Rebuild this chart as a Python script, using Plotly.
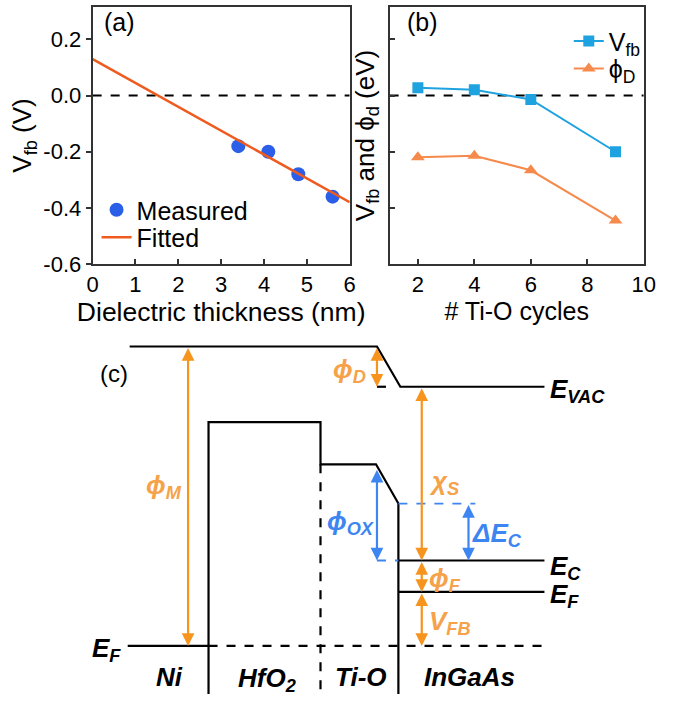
import plotly.graph_objects as go

# ---------------- data: panel (a) ----------------
thickness_nm = [3.4, 4.1, 4.8, 5.6]
vfb_measured = [-0.18, -0.20, -0.28, -0.36]
fit_thickness = [0.0, 6.0]
fit_vfb = [0.13, -0.38]
x_ticks_a = [0, 1, 2, 3, 4, 5, 6]
y_ticks = [-0.6, -0.4, -0.2, 0.0, 0.2]
y_tick_text = ['-0.6', '-0.4', '-0.2', '0.0', '0.2']

# ---------------- data: panel (b) ----------------
ti_o_cycles = [2, 4, 6, 9]
vfb_b = [0.028, 0.021, -0.014, -0.200]
phi_d = [-0.220, -0.214, -0.266, -0.445]
x_ticks_b = [2, 4, 6, 8, 10]

# ---------------- data: panel (c) band diagram (schematic units) ----------------
vac_x = [127, 381, 405, 553]
vac_y = [353, 353, 394, 394]
barrier_x = [208, 208, 323, 323, 380, 403, 403]
barrier_y = [707, 430, 430, 473, 473, 513, 707]
tio_boundary_x = [323, 323]
tio_boundary_y = [473, 707]
metal_ef_x = [125, 208]
metal_ef_y = [658, 658]
ef_dash_x = [208, 553]
ef_dash_y = [658, 658]
vac_dash_x = [381, 395]
vac_dash_y = [394, 394]
ec_x = [403, 553]
ec_y = [571, 571]
ef_semi_x = [403, 553]
ef_semi_y = [603, 603]
blue_dash1_x = [403, 482]
blue_dash1_y = [513, 513]
blue_dash2_x = [381, 403]
blue_dash2_y = [571, 571]

ORANGE = '#f7941d'
ORANGE_T = '#f5a24a'
BLUE = '#3d85f0'
FONT = 'Arial, Liberation Sans, sans-serif'

# arrows: (x, y_top, y_bottom, color)
arrows = [
    (187, 353, 658, ORANGE),   # phi_M
    (381, 353, 394, ORANGE),   # phi_D
    (427, 394, 571, ORANGE),   # chi_S
    (427, 571, 603, ORANGE),   # phi_F
    (427, 603, 658, ORANGE),   # V_FB
    (381, 477, 571, BLUE),     # phi_OX
    (475, 513, 571, BLUE),     # dE_C
]

fig = go.Figure()

# ---- panel (a)
fig.add_trace(go.Scatter(x=[0, 6], y=[0, 0], mode='lines', line=dict(color='black', width=2, dash='dash'),
                         showlegend=False, hoverinfo='skip', xaxis='x', yaxis='y'))
fig.add_trace(go.Scatter(x=thickness_nm, y=vfb_measured, mode='markers', name='Measured',
                         marker=dict(color='#2b5fe8', size=14), legend='legend', xaxis='x', yaxis='y'))
fig.add_trace(go.Scatter(x=fit_thickness, y=fit_vfb, mode='lines', name='Fitted',
                         line=dict(color='#ef5b1f', width=2.5), legend='legend3', xaxis='x', yaxis='y'))

# ---- panel (b)
fig.add_trace(go.Scatter(x=[1, 10], y=[0, 0], mode='lines', line=dict(color='black', width=2, dash='dash'),
                         showlegend=False, hoverinfo='skip', xaxis='x2', yaxis='y2'))
fig.add_trace(go.Scatter(x=ti_o_cycles, y=vfb_b, mode='lines+markers', name='V<sub>fb</sub>',
                         line=dict(color='#1fa3e0', width=2), marker=dict(symbol='square', size=11),
                         legend='legend2', xaxis='x2', yaxis='y2'))
fig.add_trace(go.Scatter(x=ti_o_cycles, y=phi_d, mode='lines+markers', name='ϕ<sub>D</sub>',
                         line=dict(color='#f58a4c', width=2), marker=dict(symbol='triangle-up', size=12),
                         legend='legend4', xaxis='x2', yaxis='y2'))

# ---- panel (c)
def band(x, y, color='black', dash='solid', width=2.2):
    fig.add_trace(go.Scatter(x=x, y=y, mode='lines', line=dict(color=color, width=width, dash=dash),
                             showlegend=False, hoverinfo='skip', xaxis='x3', yaxis='y3'))

band(vac_x, vac_y)
band(barrier_x, barrier_y)
band(tio_boundary_x, tio_boundary_y, dash='dash')
band(metal_ef_x, metal_ef_y)
band(ef_dash_x, ef_dash_y, dash='dash')
band(vac_dash_x, vac_dash_y, dash='dash')
band(ec_x, ec_y)
band(ef_semi_x, ef_semi_y)
band(blue_dash1_x, blue_dash1_y, color=BLUE, dash='dash', width=1.8)
band(blue_dash2_x, blue_dash2_y, color=BLUE, dash='dash', width=1.8)

annotations = []
for (ax_, y0, y1, col) in arrows:
    annotations.append(dict(x=ax_, y=y1, ax=ax_, ay=y0, xref='x3', yref='y3', axref='x3', ayref='y3',
                            text='', showarrow=True, arrowhead=2, startarrowhead=2, arrowside='end+start',
                            arrowsize=1.15, startarrowsize=1.15, arrowwidth=2.2, arrowcolor=col,
                            standoff=0, startstandoff=0))

def lab(text, x, y, color='black', size=26, xanchor='center', style=True):
    t = f'<b><i>{text}</i></b>' if style else text
    annotations.append(dict(x=x, y=y, xref='x3', yref='y3', text=t, showarrow=False,
                            xanchor=xanchor, yanchor='middle', font=dict(family=FONT, size=size, color=color)))

lab('(c)', 111, 381, size=24, style=False)
lab('ϕ<sub>M</sub>', 162, 496, color=ORANGE_T)
lab('ϕ<sub>D</sub>', 353, 377, color=ORANGE_T)
lab('χ<sub>S</sub>', 450, 492, color=ORANGE_T)
lab('ϕ<sub>OX</sub>', 354, 532, color=BLUE)
lab('ΔE<sub>C</sub>', 504, 545, color=BLUE)
lab('ϕ<sub>F</sub>', 451, 590, color=ORANGE_T)
lab('V<sub>FB</sub>', 456, 634, color=ORANGE_T)
lab('E<sub>VAC</sub>', 557, 398, xanchor='left')
lab('E<sub>C</sub>', 557, 578, xanchor='left')
lab('E<sub>F</sub>', 557, 607, xanchor='left')
lab('E<sub>F</sub>', 103, 662)
lab('Ni', 168, 690)
lab('HfO<sub>2</sub>', 268, 692)
lab('Ti-O', 365, 690)
lab('InGaAs', 476, 690)

# panel letters
annotations.append(dict(x=117 / 684, y=1 - 22 / 707, xref='paper', yref='paper', text='(a)', showarrow=False,
                        xanchor='center', yanchor='middle', font=dict(family=FONT, size=25, color='black')))
annotations.append(dict(x=428 / 684, y=1 - 22 / 707, xref='paper', yref='paper', text='(b)', showarrow=False,
                        xanchor='center', yanchor='middle', font=dict(family=FONT, size=25, color='black')))

axis_common = dict(showline=True, linecolor='#333', linewidth=2, mirror=True,
                   ticklen=5, tickwidth=2, tickcolor='#333', showgrid=False, zeroline=False,
                   tickfont=dict(family=FONT, size=22, color='black'))

leg_common = dict(bgcolor='rgba(0,0,0,0)', tracegroupgap=0, itemwidth=30, yanchor='middle', xanchor='left',
                  font=dict(family=FONT, size=25, color='black'))

fig.update_layout(
    width=684, height=707, margin=dict(l=0, r=0, t=0, b=0),
    paper_bgcolor='white', plot_bgcolor='white',
    font=dict(family=FONT, color='black'),
    xaxis=dict(domain=[89 / 684, 353 / 684], range=[0, 6], tickvals=x_ticks_a, anchor='y', ticks='inside',
               title=dict(text='Dielectric thickness (nm)', font=dict(size=26.5), standoff=0), **axis_common),
    yaxis=dict(domain=[1 - 269 / 707, 1 - 7 / 707], range=[-0.6, 0.316], tickvals=y_ticks, ticktext=y_tick_text,
               anchor='x', ticks='outside',
               title=dict(text='V<sub>fb</sub> (V)', font=dict(size=26), standoff=4), **axis_common),
    xaxis2=dict(domain=[394 / 684, 655 / 684], range=[1, 10], tickvals=x_ticks_b, anchor='y2', ticks='inside',
                title=dict(text='# Ti-O cycles', font=dict(size=25), standoff=0), **axis_common),
    yaxis2=dict(domain=[1 - 269 / 707, 1 - 7 / 707], range=[-0.6, 0.316], tickvals=y_ticks, showticklabels=False,
                anchor='x2', ticks='inside',
                title=dict(text='V<sub>fb</sub> and ϕ<sub>d</sub> (eV)', font=dict(size=26), standoff=6),
                **axis_common),
    xaxis3=dict(domain=[0, 1], range=[0, 684], visible=False, anchor='y3', fixedrange=True),
    yaxis3=dict(domain=[0, (707 - 330) / 707], range=[707, 330], visible=False, anchor='x3', fixedrange=True),
    legend=dict(x=93 / 684, y=1 - 214 / 707, **leg_common),
    legend3=dict(x=93 / 684, y=1 - 242 / 707, **leg_common),
    legend2=dict(x=578 / 684, y=1 - 42 / 707, **leg_common),
    legend4=dict(x=578 / 684, y=1 - 70 / 707, **leg_common),
    annotations=annotations,
)

fig.write_html('out.html', config={'displayModeBar': False},
               post_script="document.body.style.margin='0px';")
